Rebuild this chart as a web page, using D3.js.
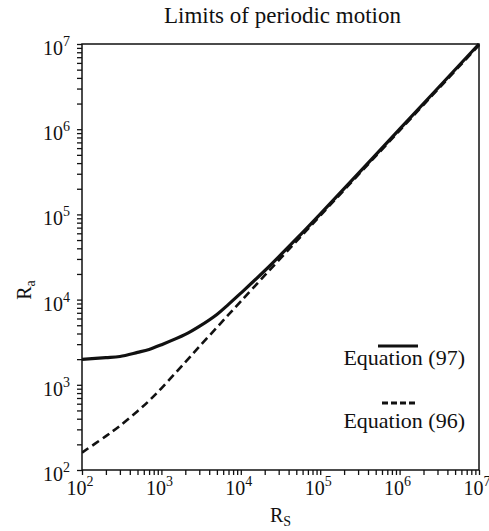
<!DOCTYPE html>
<html>
<head>
<meta charset="utf-8">
<script src="https://cdn.jsdelivr.net/npm/d3@7"></script>
<style>
	body { margin: 0; background: #fff; }
	text { font-family: "Liberation Serif", "DejaVu Serif", serif; fill: #111; }
</style>
</head>
<body>
<svg id="chart" width="489" height="531"></svg>
<script>
// valores
var rsValues = [100, 200, 300, 500, 700, 1000, 2000, 3000, 5000, 7000, 10000, 20000, 50000, 100000, 1e6, 1e7];
var eq97Values = [1990, 2080, 2150, 2400, 2600, 2950, 3900, 4850, 6700, 8800, 11900, 21800, 51500, 101000, 1e6, 1e7];
var eq96Values = [160, 250, 330, 490, 650, 910, 1845, 2800, 4720, 6650, 9550, 19200, 48200, 96600, 965000, 9.7e6];
var decadeExponents = [2, 3, 4, 5, 6, 7];
var legendLabels = ["Equation (97)", "Equation (96)"];

var svg = d3.select("#chart"),
	plotLeft = 82, plotRight = 479, plotTop = 44, plotBottom = 470;

var x = d3.scaleLog().domain([1e2, 1e7]).range([plotLeft, plotRight]),
	y = d3.scaleLog().domain([1e2, 1e7]).range([plotBottom, plotTop]);

var minorTicks = [];
decadeExponents.slice(0, -1).forEach(function(e) {
	for (var k = 2; k <= 9; k++) {
		minorTicks.push(k * Math.pow(10, e));
	}
});
var majorTicks = decadeExponents.map(function(e) { return Math.pow(10, e); });

// ejes
var xAxis = d3.axisBottom(x).tickValues(majorTicks.concat(minorTicks))
	.tickSize(5).tickFormat("");
var yAxis = d3.axisLeft(y).tickValues(majorTicks.concat(minorTicks))
	.tickSize(5).tickFormat("");

svg.append("g").attr("transform", "translate(0," + plotBottom + ")").call(xAxis)
	.call(function(g) { g.select(".domain").remove(); })
	.selectAll("line").attr("stroke", "#111").attr("stroke-width", 1.3);
svg.append("g").attr("transform", "translate(" + plotLeft + ",0)").call(yAxis)
	.call(function(g) { g.select(".domain").remove(); })
	.selectAll("line").attr("stroke", "#111").attr("stroke-width", 1.3);

svg.append("rect")
	.attr("x", plotLeft).attr("y", plotTop)
	.attr("width", plotRight - plotLeft).attr("height", plotBottom - plotTop)
	.attr("fill", "none").attr("stroke", "#111").attr("stroke-width", 1.5);

// etiquetas de las marcas
var xLabels = svg.append("g").selectAll("text").data(decadeExponents).enter()
	.append("text")
	.attr("x", function(e) { return x(Math.pow(10, e)) - 2; })
	.attr("y", plotBottom + 25)
	.attr("text-anchor", "middle")
	.style("font-size", "20px");
xLabels.append("tspan").text("10");
xLabels.append("tspan").attr("dy", -9).style("font-size", "14px").text(function(e) { return e; });

var yLabels = svg.append("g").selectAll("text").data(decadeExponents).enter()
	.append("text")
	.attr("x", 70)
	.attr("y", function(e) { return y(Math.pow(10, e)) + 11; })
	.attr("text-anchor", "end")
	.style("font-size", "20px");
yLabels.append("tspan").text("10");
yLabels.append("tspan").attr("dy", -9).style("font-size", "14px").text(function(e) { return e; });

// títulos
svg.append("text")
	.attr("x", (plotLeft + plotRight) / 2 + 2).attr("y", 23)
	.attr("text-anchor", "middle")
	.style("font-size", "23px")
	.text("Limits of periodic motion");

var xTitle = svg.append("text")
	.attr("x", (plotLeft + plotRight) / 2).attr("y", 522)
	.attr("text-anchor", "middle")
	.style("font-size", "20px");
xTitle.append("tspan").text("R");
xTitle.append("tspan").attr("dy", 4).style("font-size", "14px").text("S");

var yTitle = svg.append("text")
	.attr("transform", "translate(31," + 290 + ") rotate(-90)")
	.attr("text-anchor", "middle")
	.style("font-size", "20px");
yTitle.append("tspan").text("R");
yTitle.append("tspan").attr("dy", 4).style("font-size", "14px").text("a");

// curvas
svg.append("clipPath").attr("id", "plotClip").append("rect")
	.attr("x", plotLeft).attr("y", plotTop - 2)
	.attr("width", plotRight - plotLeft + 2).attr("height", plotBottom - plotTop + 2);

var line = d3.line()
	.x(function(d) { return x(d[0]); })
	.y(function(d) { return y(d[1]); })
	.curve(d3.curveCatmullRom.alpha(0.5));

var plot = svg.append("g").attr("clip-path", "url(#plotClip)");

plot.append("path")
	.datum(d3.zip(rsValues, eq96Values))
	.attr("d", line)
	.attr("fill", "none").attr("stroke", "#111")
	.attr("stroke-width", 2.6).attr("stroke-dasharray", "8,4.5");

plot.append("path")
	.datum(d3.zip(rsValues, eq97Values))
	.attr("d", line)
	.attr("fill", "none").attr("stroke", "#111")
	.attr("stroke-width", 3.2);

// leyenda
var legend = svg.append("g");
legend.append("line")
	.attr("x1", 378).attr("x2", 418).attr("y1", 346).attr("y2", 346)
	.attr("stroke", "#111").attr("stroke-width", 3.2);
legend.append("text")
	.attr("x", 465).attr("y", 365)
	.attr("text-anchor", "end")
	.style("font-size", "22px")
	.text(legendLabels[0]);
legend.append("line")
	.attr("x1", 382).attr("x2", 418).attr("y1", 403).attr("y2", 403)
	.attr("stroke", "#111").attr("stroke-width", 3)
	.attr("stroke-dasharray", "6,3");
legend.append("text")
	.attr("x", 465).attr("y", 428)
	.attr("text-anchor", "end")
	.style("font-size", "22px")
	.text(legendLabels[1]);
</script>
</body>
</html>
